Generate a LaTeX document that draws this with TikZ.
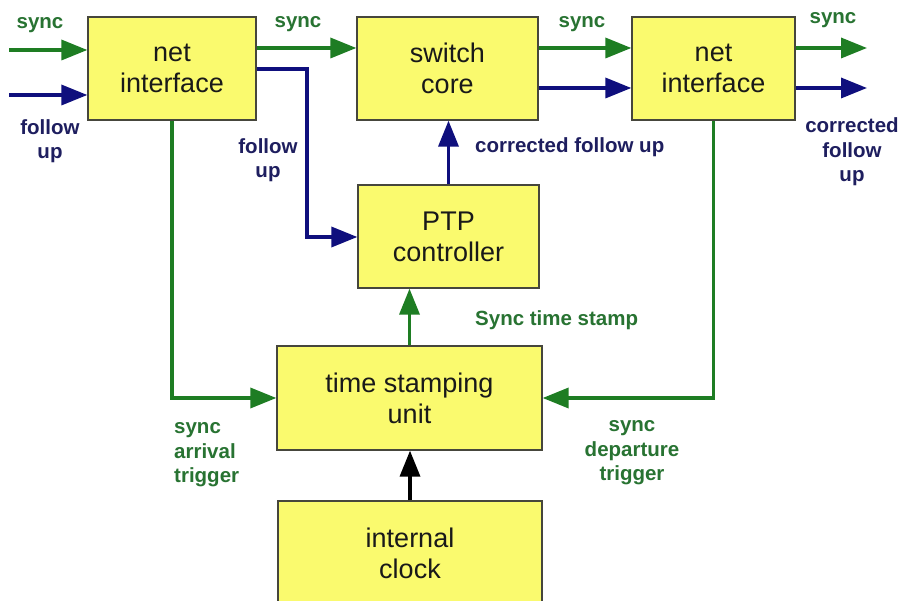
\documentclass[tikz,border=0pt]{standalone}
\usepackage{fontspec}
\setmainfont{Liberation Sans}
\usetikzlibrary{arrows.meta}
\definecolor{boxfill}{RGB}{250,250,110}
\definecolor{boxline}{RGB}{70,70,60}
\definecolor{sgreen}{RGB}{30,125,35}
\definecolor{snavy}{RGB}{15,15,125}
\definecolor{lgreen}{RGB}{40,115,50}
\definecolor{lnavy}{RGB}{30,30,95}
\definecolor{boxtext}{RGB}{25,25,25}
\tikzset{
  blk/.style={draw=boxline, line width=1.3pt, fill=boxfill, text=boxtext,
    align=center, inner sep=0pt, font=\fontsize{27}{31}\selectfont},
  tip/.style={-{Triangle[length=26pt,width=20pt]}},
  garr/.style={draw=sgreen, line width=3.5pt, tip},
  narr/.style={draw=snavy, line width=3.5pt, tip},
  karr/.style={draw=black, line width=3.5pt, tip},
  glab/.style={text=lgreen, font=\bfseries\fontsize{20.5}{24.5}\selectfont, align=center, inner sep=0pt},
  nlab/.style={text=lnavy, font=\bfseries\fontsize{20.5}{24.5}\selectfont, align=center, inner sep=0pt},
}
\begin{document}
\begin{tikzpicture}[x=1pt,y=-1pt]
\useasboundingbox (0,0) rectangle (900,601);
\clip (0,0) rectangle (900,601);
\fill[white] (0,0) rectangle (900,601);
% boxes
\node[blk, minimum width=168pt, minimum height=103pt] (net1) at (172,68.5) {net\\interface};
\node[blk, minimum width=181pt, minimum height=103pt] (sw) at (447.5,68.5) {switch\\core};
\node[blk, minimum width=163pt, minimum height=103pt] (net2) at (713.5,68.5) {net\\interface};
\node[blk, minimum width=181pt, minimum height=103pt] (ptp) at (448.5,236.5) {PTP\\controller};
\node[blk, minimum width=265pt, minimum height=104pt] (tsu) at (409.5,398) {time stamping\\unit};
\node[blk, minimum width=264pt, minimum height=104pt] (clk) at (410,553) {internal\\clock};
% helper coordinates
\coordinate (ysync) at (0,48);
\coordinate (ysyncin) at (0,50);
\coordinate (yfu) at (0,95);
\coordinate (yfu2) at (0,69);
\coordinate (yfuout) at (0,88);
\coordinate (inS) at (9,50);
\coordinate (inF) at (9,95);
\coordinate (outS) at (867,48);
\coordinate (outF) at (867,88);
\coordinate (bend) at (307,69);
\coordinate (yptp) at (0,237);
% connectors
\draw[garr] (inS) -- (net1.west |- ysyncin);
\draw[narr] (inF) -- (net1.west |- yfu);
\draw[garr] (net1.east |- ysync) -- (sw.west |- ysync);
\draw[narr] (net1.east |- yfu2) -- (bend) -- (bend |- yptp) -- (ptp.west |- yptp);
\draw[garr] (sw.east |- ysync) -- (net2.west |- ysync);
\draw[narr] (sw.east |- yfuout) -- (net2.west |- yfuout);
\draw[garr] (net2.east |- ysync) -- (outS);
\draw[narr] (net2.east |- yfuout) -- (outF);
\draw[narr] (ptp.north) -- (ptp.north |- sw.south);
\draw[garr] (tsu.north) -- (tsu.north |- ptp.south);
\draw[karr] (clk.north) -- (clk.north |- tsu.south);
\draw[garr] (net1.south) |- (tsu.west);
\draw[garr] (net2.south) |- (tsu.east);
% labels
\node[glab] (l1) at (40,25) {sync};
\node[nlab] (l2) at (50,141) {follow\\up};
\node[glab] (l3) at (298,24) {sync};
\node[nlab] (l4) at (268,160) {follow\\up};
\node[glab] (l5) at (582,24) {sync};
\node[nlab, anchor=west] (l6) at (475,147) {corrected follow up};
\node[glab] (l7) at (833,20) {sync};
\node[nlab] (l8) at (852,152) {corrected\\follow\\up};
\node[glab, anchor=west] (l9) at (475,320) {Sync time stamp};
\node[glab, align=left, anchor=west] (l10) at (174,455) {sync\\arrival\\trigger};
\node[glab] (l11) at (632,453) {sync\\departure\\trigger};
\end{tikzpicture}
\end{document}
